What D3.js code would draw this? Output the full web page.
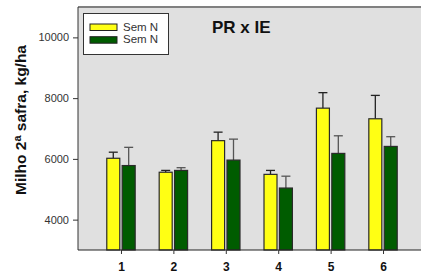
<!DOCTYPE html>
<html>
<head>
<meta charset="utf-8">
<script src="https://cdn.jsdelivr.net/npm/d3@7.9.0/dist/d3.min.js"></script>
<style>
  body { margin: 0; background: #fff; }
  svg { display: block; font-family: "Liberation Sans", Arial, sans-serif; }
</style>
</head>
<body>
<svg id="chart" width="421" height="273"></svg>
<script>
const categories = ["1", "2", "3", "4", "5", "6"];
const seriesNames = ["Sem N", "Sem N"];
const yellowValues = [6020, 5560, 6600, 5490, 7670, 7320];
const yellowErrors = [6220, 5620, 6880, 5620, 8180, 8090];
const greenValues = [5780, 5620, 5960, 5040, 6180, 6410];
const greenErrors = [6380, 5710, 6650, 5430, 6760, 6730];
const yTicks = [4000, 6000, 8000, 10000];

const svg = d3.select("#chart");
const plotLeft = 78, plotTop = 7, plotRight = 426, plotBottom = 250;

const x = d3.scalePoint().domain(categories).range([plotLeft, plotRight]).padding(0.82);
const y = d3.scaleLinear().domain([3000, 11000]).range([plotBottom, plotTop]);

const barW = 13;
const offset = 7.7;

// plot background
svg.append("rect")
  .attr("x", plotLeft).attr("y", plotTop)
  .attr("width", 421 - plotLeft).attr("height", plotBottom - plotTop)
  .attr("fill", "#e0e0e0");

svg.append("line")
  .attr("x1", plotLeft).attr("x2", 421).attr("y1", plotTop).attr("y2", plotTop)
  .attr("stroke", "#808080").attr("stroke-width", 2);

const series = [
  { values: yellowValues, errors: yellowErrors, fill: "#ffff14", errColor: "#222", dx: -offset },
  { values: greenValues, errors: greenErrors, fill: "#005c00", errColor: "#555", dx: offset },
];

series.forEach((s) => {
  const g = svg.append("g");
  g.selectAll("line.err")
    .data(categories)
    .join("line")
    .attr("class", "err")
    .attr("x1", (d) => x(d) + s.dx).attr("x2", (d) => x(d) + s.dx)
    .attr("y1", (d, i) => y(s.values[i])).attr("y2", (d, i) => y(s.errors[i]))
    .attr("stroke", s.errColor).attr("stroke-width", 1.3);
  g.selectAll("line.cap")
    .data(categories)
    .join("line")
    .attr("class", "cap")
    .attr("x1", (d) => x(d) + s.dx - 4.5).attr("x2", (d) => x(d) + s.dx + 4.5)
    .attr("y1", (d, i) => y(s.errors[i])).attr("y2", (d, i) => y(s.errors[i]))
    .attr("stroke", s.errColor).attr("stroke-width", 1.3);
  g.selectAll("rect")
    .data(categories)
    .join("rect")
    .attr("x", (d) => x(d) + s.dx - barW / 2)
    .attr("y", (d, i) => y(s.values[i]))
    .attr("width", barW)
    .attr("height", (d, i) => plotBottom - y(s.values[i]))
    .attr("fill", s.fill)
    .attr("stroke", "#2a2a2a").attr("stroke-width", 1.2);
});

// axes
const yAxis = svg.append("g")
  .attr("transform", `translate(${plotLeft},0)`)
  .call(d3.axisLeft(y).tickValues(yTicks).tickSize(5).tickPadding(4).tickFormat(d3.format("d")));
yAxis.select(".domain").attr("stroke", "#333").attr("d", `M0,${plotTop}V${plotBottom}`);
yAxis.selectAll(".tick line").attr("stroke", "#333");
yAxis.selectAll(".tick text").attr("font-size", 11).attr("fill", "#333")
  .attr("font-family", "Liberation Sans, Arial, sans-serif");

const xAxis = svg.append("g")
  .attr("transform", `translate(0,${plotBottom})`)
  .call(d3.axisBottom(x).tickSize(4).tickPadding(8));
xAxis.select(".domain").attr("stroke", "#222").attr("d", `M${plotLeft},0H421`);
xAxis.selectAll(".tick line").attr("stroke", "#333");
xAxis.selectAll(".tick text").attr("font-size", 12).attr("font-weight", "bold").attr("fill", "#111")
  .attr("font-family", "Liberation Sans, Arial, sans-serif");

// title
svg.append("text")
  .attr("x", 212).attr("y", 33)
  .attr("font-size", 17).attr("font-weight", "bold").attr("fill", "#111")
  .text("PR x IE");

// y label
const yl = svg.append("text")
  .attr("transform", `translate(26,120) rotate(-90)`)
  .attr("text-anchor", "middle")
  .attr("font-size", 15.5).attr("font-weight", "bold").attr("fill", "#111");
yl.append("tspan").text("Milho 2");
yl.append("tspan").attr("font-size", 11).attr("dy", -5).text("a");
yl.append("tspan").attr("dy", 5).text(" safra, kg/ha");

// legend
const legend = svg.append("g");
legend.append("rect")
  .attr("x", 83.5).attr("y", 13.5).attr("width", 85).attr("height", 41)
  .attr("fill", "#fff").attr("stroke", "#333").attr("stroke-width", 1);
const legendColors = ["#ffff14", "#005c00"];
legend.selectAll("g.item")
  .data(seriesNames)
  .join("g")
  .attr("class", "item")
  .attr("transform", (d, i) => `translate(90,${24 + i * 12.7})`)
  .each(function (d, i) {
    const item = d3.select(this);
    item.append("rect").attr("width", 27).attr("height", 6.5)
      .attr("fill", legendColors[i]).attr("stroke", "#222").attr("stroke-width", 1);
    item.append("text").attr("x", 33).attr("y", 6.5)
      .attr("font-size", 11.5).attr("fill", "#333").text(d);
  });
</script>
</body>
</html>
